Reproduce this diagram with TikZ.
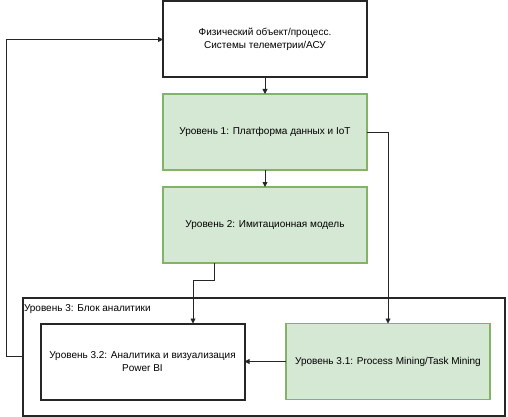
\documentclass[tikz,border=0pt]{standalone}
\usepackage{fontspec}
\setmainfont{Liberation Sans}
\usetikzlibrary{arrows.meta}
\definecolor{gfill}{HTML}{D5E8D4}
\definecolor{gdraw}{HTML}{82B366}
\begin{document}
\begin{tikzpicture}[x=1pt,y=-1pt,
  every node/.style={font=\fontsize{10}{12.5}\selectfont, inner sep=0pt, outer sep=0pt, align=center},
  wbox/.style={draw=black!85, line width=2pt, fill=white, minimum width=204pt, minimum height=76pt},
  gbox/.style={draw=gdraw, line width=1.6pt, fill=gfill, minimum width=204pt, minimum height=76pt},
  arr/.style={draw=black!85, line width=0.9pt, -{Triangle[width=5pt,length=5pt]}}]
\useasboundingbox (0,0) rectangle (508,417);
\node[wbox, minimum width=482pt, minimum height=118pt] (outer) at (264,356.5) {};
\node[anchor=west] (outerlbl) at (24,309) {Уровень 3: Блок аналитики};
\node[wbox] (top) at (265,39.5) {Физический объект/процесс.\\Системы телеметрии/АСУ};
\node[gbox] (l1) at (265,132) {Уровень 1: Платформа данных и IoT};
\node[gbox] (l2) at (265,225) {Уровень 2: Имитационная модель};
\node[wbox] (b32) at (142.5,361.5) {Уровень 3.2: Аналитика и визуализация\\Power BI};
\node[gbox] (b31) at (388,361.5) {Уровень 3.1: Process Mining/Task Mining};
\draw[arr] (top) -- (l1);
\draw[arr] (l1) -- (l2);
\draw[arr] (l1.east) -| (b31.north);
\draw[arr] ([xshift=-51pt]l2.south) -- ++(0,17) -| ([xshift=50.5pt]b32.north);
\draw[arr] (b31.west) -- (b32.east);
\draw[arr] (outer.west) -- ++(-17,0) |- (top.west);
\end{tikzpicture}
\end{document}
